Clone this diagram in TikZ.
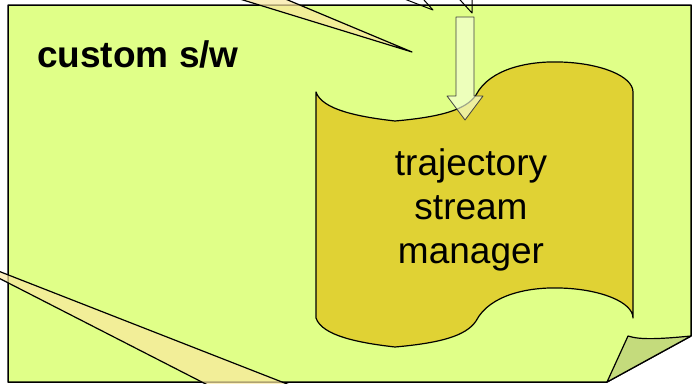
\documentclass[tikz,border=0pt]{standalone}
\usepackage{fontspec}
\setmainfont{Liberation Sans}

\definecolor{notegreen}{RGB}{224,255,136}
\definecolor{foldgreen}{RGB}{196,219,124}
\definecolor{tapeyellow}{RGB}{224,210,52}
\definecolor{calloutfill}{RGB}{250,232,160}
\definecolor{arrowfill}{RGB}{245,255,215}

\begin{document}
\begin{tikzpicture}[x=1pt,y=-1pt,line join=round,
    note/.style={draw,line width=1.5pt,fill=notegreen},
    flap/.style={draw,line width=1.2pt,fill=foldgreen},
    stream/.style={draw,line width=1.2pt,fill=tapeyellow},
    callout/.style={draw,line width=1.2pt,fill=calloutfill,fill opacity=.7},
    pointer/.style={draw,line width=1pt},
    hollow/.style={draw=black!75,line width=.8pt,fill=arrowfill,fill opacity=.65}]
  \useasboundingbox (0,0) rectangle (692,383);
  \clip (0,0) rectangle (692,383);

  % sheet with the turned-up corner
  \path[note] (8,5) -- (691,5) -- (691,336) -- (607,382) -- (8,382) -- cycle;
  \path[flap] (628,336) .. controls (640,340) and (660,339) .. (691,336)
    -- (607,382) -- cycle;
  \node[font=\bfseries\fontsize{37}{44}\selectfont,anchor=base west,inner sep=0]
    (sw) at (37,67) {custom s/w};

  % the stream manager
  \path[stream] (316,92) .. controls (322,110) and (360,117) .. (395,121)
    .. controls (440,117) and (466,110) .. (476,95)
    .. controls (490,68) and (530,61) .. (560,62)
    .. controls (600,63) and (633,76) .. (633,92)
    -- (633,318) .. controls (633,302) and (600,289) .. (560,288)
    .. controls (530,287) and (490,294) .. (476,321)
    .. controls (466,336) and (440,343) .. (395,347)
    .. controls (360,343) and (322,336) .. (316,318) -- cycle;
  \node[font=\fontsize{37}{44}\selectfont,align=center] (tsm) at (471,210)
    {trajectory\\stream\\manager};

  % input arrow
  \path[hollow] (456,17) -- (474,17) -- (474,96) -- (483,96) -- (465,120)
    -- (447,96) -- (456,96) -- cycle;

  % pointers coming in from outside
  \path[callout] (178,-20) -- (412,52) -- (240,-20) -- cycle;
  \path[callout] (-58,249) -- (237,400) -- (328,400) -- cycle;
  \path[pointer] (381,-10) -- (433,10) -- (415,-10);
  \path[pointer] (451,-10) -- (472,13) -- (472,-10);
\end{tikzpicture}
\end{document}
